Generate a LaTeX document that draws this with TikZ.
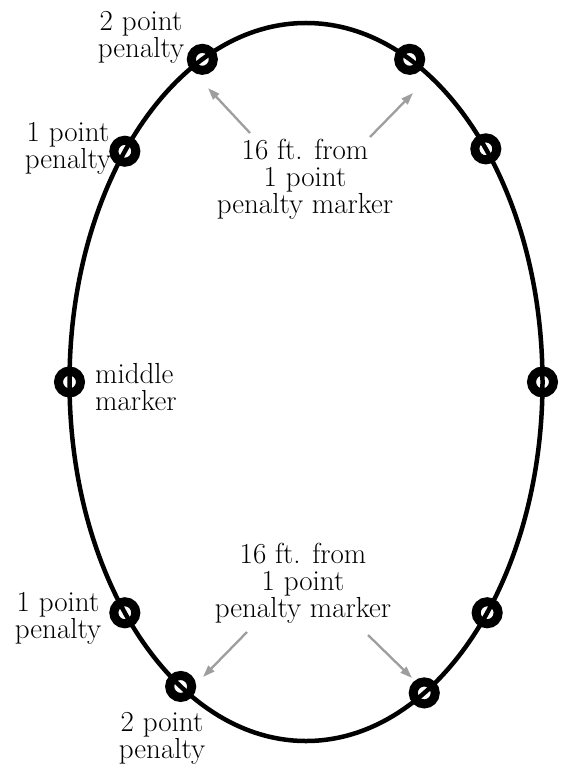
\documentclass[tikz,border=0pt]{standalone}
\usetikzlibrary{arrows.meta}
\begin{document}
\begin{tikzpicture}[x=1pt,y=-1pt,
  track/.style={line width=4.5pt},
  marker/.style={circle,draw,line width=9pt,minimum size=22pt,inner sep=0pt},
  ptr/.style={draw=black!38,line width=2.3pt,-{Triangle[length=12pt,width=8pt]}},
  lbl/.style={font=\fontsize{29}{27}\selectfont,align=center,inner sep=0pt,anchor=base}]
\useasboundingbox[fill=white] (0,0) rectangle (561,770);
% track
\draw[track] (306,382) ellipse [x radius=236.5pt, y radius=359pt];
% markers
\foreach \n/\t in {tl2/116,tr2/64,tl1/140,tr1/40.5,ml/180,mr/0,bl1/220,br1/320,bl2/238,br2/300}
  \node[marker] (m\n) at ({306+236.5*cos(\t)},{382-359*sin(\t)}) {};
% labels (base = baseline of last line)
\node[lbl] (ttop) at (305,213) {16 ft. from\\1 point\\penalty marker};
\node[lbl] (tbot) at (303,617) {16 ft. from\\1 point\\penalty marker};
\node[lbl] (ltl2) at (141,58) {2 point\\penalty};
\node[lbl] (ltl1) at (68,168) {1 point\\penalty};
\node[lbl,anchor=base west,align=left] (lml) at (95,410) {middle\\marker};
\node[lbl] (lbl1) at (58,638) {1 point\\penalty};
\node[lbl] (lbl2) at (162,758) {2 point\\penalty};
% arrows
\coordinate (a1s) at (250,133); \coordinate (a1e) at (208,88);
\coordinate (a2s) at (370,137); \coordinate (a2e) at (413,93);
\coordinate (a3s) at (247,632); \coordinate (a3e) at (203,677);
\coordinate (a4s) at (368,635); \coordinate (a4e) at (412,678);
\draw[ptr] (a1s) -- (a1e);
\draw[ptr] (a2s) -- (a2e);
\draw[ptr] (a3s) -- (a3e);
\draw[ptr] (a4s) -- (a4e);
\end{tikzpicture}
\end{document}
